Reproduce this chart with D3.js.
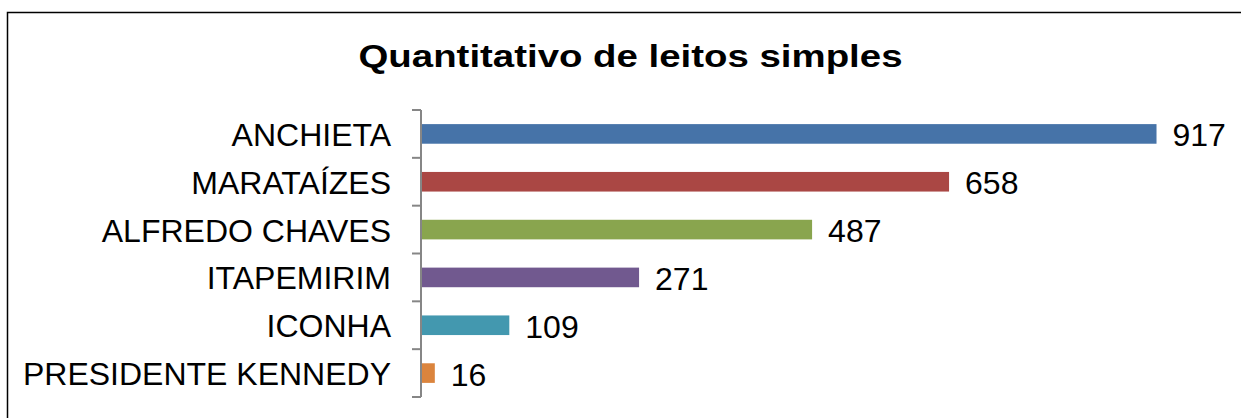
<!DOCTYPE html>
<html>
<head>
<meta charset="utf-8">
<script src="https://cdn.jsdelivr.net/npm/d3@7"></script>
<style>
  html, body { margin: 0; padding: 0; background: #fff; }
  #chart { width: 1241px; height: 418px; }
</style>
</head>
<body>
<div id="chart"></div>
<script>
// chart data
var categories = ["ANCHIETA", "MARATAÍZES", "ALFREDO CHAVES", "ITAPEMIRIM", "ICONHA", "PRESIDENTE KENNEDY"];
var values = [917, 658, 487, 271, 109, 16];
var colors = ["#4673A8", "#AA4744", "#89A54E", "#71598F", "#4398AF", "#DB843D"];
var title = "Quantitativo de leitos simples";

function init() {
    var container = d3.select("#chart");
    var w = 1241, h = 418;

    var svg = container.append("svg")
                .attr("width", w)
                .attr("height", h);

    // outer frame (runs off the picture to the right and bottom)
    svg.append("rect")
        .attr("x", 7.5)
        .attr("y", 12.5)
        .attr("width", 1260)
        .attr("height", 430)
        .attr("fill", "none")
        .attr("stroke", "#000")
        .attr("stroke-width", 1.5);

    // title
    svg.append("text")
        .attr("x", 630.5)
        .attr("y", 67)
        .attr("text-anchor", "middle")
        .attr("textLength", 544)
        .attr("lengthAdjust", "spacingAndGlyphs")
        .style("font-family", "'Liberation Sans', Arial, sans-serif")
        .style("font-weight", "bold")
        .style("font-size", "31px")
        .attr("fill", "#000")
        .text(title);

    var x = d3.scaleLinear()
                .domain([0, 1000])
                .range([422, 1223]);

    var y = d3.scaleBand()
                .domain(categories)
                .range([110, 397])
                .paddingInner(0.59)
                .paddingOuter(0.295);

    // bars
    svg.selectAll("rect.bar")
        .data(values)
        .enter()
        .append("rect")
        .attr("class", "bar")
        .attr("x", x(0))
        .attr("y", function(d, i) { return y(categories[i]); })
        .attr("width", function(d) { return x(d) - x(0); })
        .attr("height", y.bandwidth())
        .attr("fill", function(d, i) { return colors[i]; });

    // value labels
    svg.selectAll("text.val")
        .data(values)
        .enter()
        .append("text")
        .attr("class", "val")
        .attr("x", function(d) { return x(d) + 16; })
        .attr("y", function(d, i) { return y(categories[i]) + y.bandwidth() / 2 + 12.5; })
        .style("font-family", "'Liberation Sans', Arial, sans-serif")
        .style("font-size", "32px")
        .attr("fill", "#000")
        .text(function(d) { return d; });

    // category axis: line with ticks between the bands
    var step = y.step();
    var ticks = d3.range(categories.length + 1).map(function(i) { return 110 + i * step; });

    var axis = svg.append("g");
    axis.append("line")
        .attr("x1", 421).attr("x2", 421)
        .attr("y1", 110).attr("y2", 397)
        .attr("stroke", "#868686")
        .attr("stroke-width", 2);
    axis.selectAll("line.tick")
        .data(ticks)
        .enter()
        .append("line")
        .attr("class", "tick")
        .attr("x1", 412).attr("x2", 421)
        .attr("y1", function(d) { return d; })
        .attr("y2", function(d) { return d; })
        .attr("stroke", "#868686")
        .attr("stroke-width", 2);

    axis.selectAll("text")
        .data(categories)
        .enter()
        .append("text")
        .attr("x", 391)
        .attr("y", function(d) { return y(d) + y.bandwidth() / 2 + 12; })
        .attr("text-anchor", "end")
        .style("font-family", "'Liberation Sans', Arial, sans-serif")
        .style("font-size", "32px")
        .attr("fill", "#000")
        .text(function(d) { return d; });
}

window.onload = init;
</script>
</body>
</html>
